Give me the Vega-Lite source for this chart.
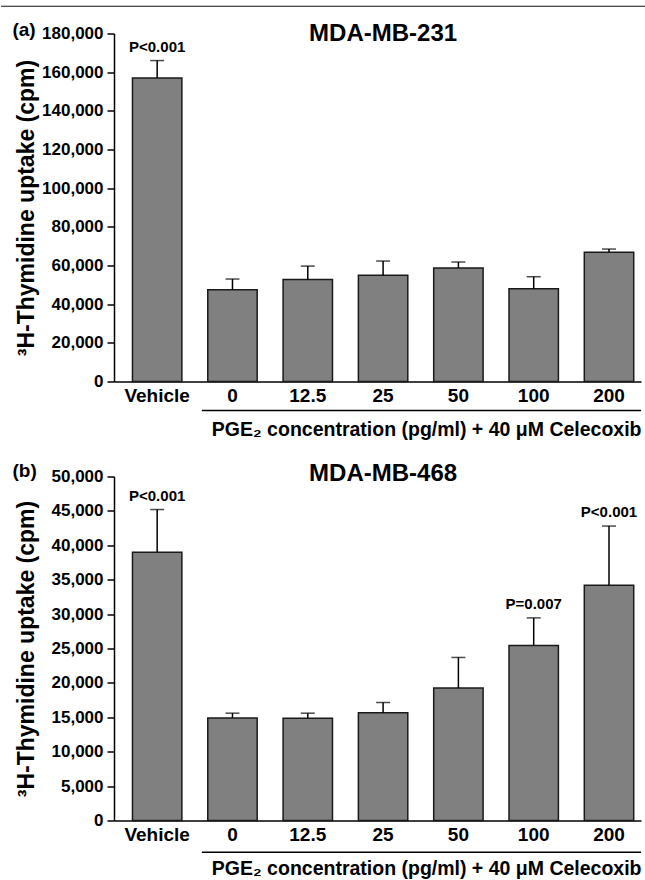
{
  "$schema": "https://vega.github.io/schema/vega-lite/v6.json",
  "background": "white",
  "padding": {"left": 0, "top": 5.5, "right": 0, "bottom": 0},
  "config": {
    "view": {"stroke": null},
    "font": "Liberation Sans",
    "concat": {"spacing": 22},
    "axis": {"grid": false, "labelColor": "black", "titleColor": "black", "domainColor": "black", "tickColor": "black", "labelFont": "Liberation Sans", "titleFont": "Liberation Sans", "labelFontWeight": "bold", "titleFontWeight": "bold"},
    "axisY": {"tickCount": 10, "format": ",d", "labelFontSize": 17, "tickSize": 7, "tickWidth": 1.5, "domainWidth": 1.5, "labelPadding": 4, "titleFontSize": 23, "titlePadding": 4, "minExtent": 72, "maxExtent": 72},
    "axisX": {"labelAngle": 0, "ticks": false, "labelFontSize": 19, "labelPadding": 5, "titleFontSize": 19.5, "titlePadding": 15, "domainWidth": 1.5, "titleAnchor": "end"}
  },
  "datasets": {
    "a": [
      {"group": "Vehicle", "value": 157000, "upper": 166000, "p": "P<0.001"},
      {"group": "0", "value": 47500, "upper": 53000, "p": ""},
      {"group": "12.5", "value": 52800, "upper": 59700, "p": ""},
      {"group": "25", "value": 54900, "upper": 62300, "p": ""},
      {"group": "50", "value": 58700, "upper": 61800, "p": ""},
      {"group": "100", "value": 48000, "upper": 54200, "p": ""},
      {"group": "200", "value": 66800, "upper": 68500, "p": ""}
    ],
    "b": [
      {"group": "Vehicle", "value": 39000, "upper": 45200, "p": "P<0.001"},
      {"group": "0", "value": 14900, "upper": 15600, "p": ""},
      {"group": "12.5", "value": 14850, "upper": 15600, "p": ""},
      {"group": "25", "value": 15650, "upper": 17150, "p": ""},
      {"group": "50", "value": 19250, "upper": 23700, "p": ""},
      {"group": "100", "value": 25450, "upper": 29450, "p": "P=0.007"},
      {"group": "200", "value": 34200, "upper": 42800, "p": "P<0.001"}
    ]
  },
  "vconcat": [
    {
      "width": 527,
      "height": 348,
      "data": {"name": "a"},
      "encoding": {
        "x": {
          "field": "group", "type": "nominal", "sort": null,
          "scale": {"domain": ["Vehicle", "0", "12.5", "25", "50", "100", "200"], "paddingInner": 0.344, "paddingOuter": 0.171, "align": 0.717},
          "axis": {"title": "PGE₂ concentration (pg/ml) + 40 μM Celecoxib"}
        }
      },
      "layer": [
        {
          "mark": {"type": "bar", "fill": "#808080", "stroke": "#1a1a1a", "strokeWidth": 1.5},
          "encoding": {
            "y": {"field": "value", "type": "quantitative", "title": "³H-Thymidine uptake (cpm)",
              "scale": {"domain": [0, 180000], "nice": false}}
          }
        },
        {
          "mark": {"type": "rule", "color": "black", "strokeWidth": 1.5},
          "encoding": {"y": {"field": "value", "type": "quantitative"}, "y2": {"field": "upper"}}
        },
        {
          "mark": {"type": "tick", "color": "black", "thickness": 1.5, "size": 14},
          "encoding": {"y": {"field": "upper", "type": "quantitative"}}
        },
        {
          "mark": {"type": "text", "baseline": "bottom", "dy": -6, "fontSize": 15, "fontWeight": "bold", "color": "black"},
          "encoding": {"y": {"field": "upper", "type": "quantitative"}, "text": {"field": "p"}}
        },
        {
          "data": {"values": [{"from": "0", "to": "200", "level": -15000}]},
          "mark": {"type": "rule", "color": "black", "strokeWidth": 1.5},
          "encoding": {"x": {"field": "from", "type": "nominal", "bandPosition": -0.12}, "x2": {"field": "to", "bandPosition": 1.148}, "y": {"field": "level", "type": "quantitative"}}
        },
        {
          "data": {"values": [{"from": "Vehicle", "to": "200", "level": 194100}]},
          "mark": {"type": "rule", "color": "#111111", "strokeWidth": 1},
          "encoding": {"x": {"field": "from", "type": "nominal", "bandPosition": -2.66}, "x2": {"field": "to", "bandPosition": 1.25}, "y": {"field": "level", "type": "quantitative"}}
        },
        {
          "data": {"values": [{"label": "MDA-MB-231", "at": "25", "level": 180000}]},
          "mark": {"type": "text", "baseline": "middle", "fontSize": 24, "fontWeight": "bold", "color": "black"},
          "encoding": {"x": {"field": "at", "type": "nominal"}, "y": {"field": "level", "type": "quantitative"}, "text": {"field": "label"}}
        },
        {
          "data": {"values": [{"label": "(a)", "at": "Vehicle", "level": 180000}]},
          "mark": {"type": "text", "baseline": "middle", "align": "left", "dx": -120, "dy": -4, "fontSize": 19, "fontWeight": "bold", "color": "black"},
          "encoding": {"x": {"field": "at", "type": "nominal", "bandPosition": 0}, "y": {"field": "level", "type": "quantitative"}, "text": {"field": "label"}}
        }
      ]
    },
    {
      "width": 527,
      "height": 344,
      "data": {"name": "b"},
      "encoding": {
        "x": {
          "field": "group", "type": "nominal", "sort": null,
          "scale": {"domain": ["Vehicle", "0", "12.5", "25", "50", "100", "200"], "paddingInner": 0.344, "paddingOuter": 0.171, "align": 0.717},
          "axis": {"title": "PGE₂ concentration (pg/ml) + 40 μM Celecoxib"}
        }
      },
      "layer": [
        {
          "mark": {"type": "bar", "fill": "#808080", "stroke": "#1a1a1a", "strokeWidth": 1.5},
          "encoding": {
            "y": {"field": "value", "type": "quantitative", "title": "³H-Thymidine uptake (cpm)",
              "scale": {"domain": [0, 50000], "nice": false}}
          }
        },
        {
          "mark": {"type": "rule", "color": "black", "strokeWidth": 1.5},
          "encoding": {"y": {"field": "value", "type": "quantitative"}, "y2": {"field": "upper"}}
        },
        {
          "mark": {"type": "tick", "color": "black", "thickness": 1.5, "size": 14},
          "encoding": {"y": {"field": "upper", "type": "quantitative"}}
        },
        {
          "mark": {"type": "text", "baseline": "bottom", "dy": -6, "fontSize": 15, "fontWeight": "bold", "color": "black"},
          "encoding": {"y": {"field": "upper", "type": "quantitative"}, "text": {"field": "p"}}
        },
        {
          "data": {"values": [{"from": "0", "to": "200", "level": -4600}]},
          "mark": {"type": "rule", "color": "black", "strokeWidth": 1.5},
          "encoding": {"x": {"field": "from", "type": "nominal", "bandPosition": -0.12}, "x2": {"field": "to", "bandPosition": 1.148}, "y": {"field": "level", "type": "quantitative"}}
        },
        {
          "data": {"values": [{"label": "MDA-MB-468", "at": "25", "level": 50000}]},
          "mark": {"type": "text", "baseline": "middle", "dy": -3, "fontSize": 24, "fontWeight": "bold", "color": "black"},
          "encoding": {"x": {"field": "at", "type": "nominal"}, "y": {"field": "level", "type": "quantitative"}, "text": {"field": "label"}}
        },
        {
          "data": {"values": [{"label": "(b)", "at": "Vehicle", "level": 50000}]},
          "mark": {"type": "text", "baseline": "middle", "align": "left", "dx": -120, "dy": -6, "fontSize": 19, "fontWeight": "bold", "color": "black"},
          "encoding": {"x": {"field": "at", "type": "nominal", "bandPosition": 0}, "y": {"field": "level", "type": "quantitative"}, "text": {"field": "label"}}
        }
      ]
    }
  ]
}
